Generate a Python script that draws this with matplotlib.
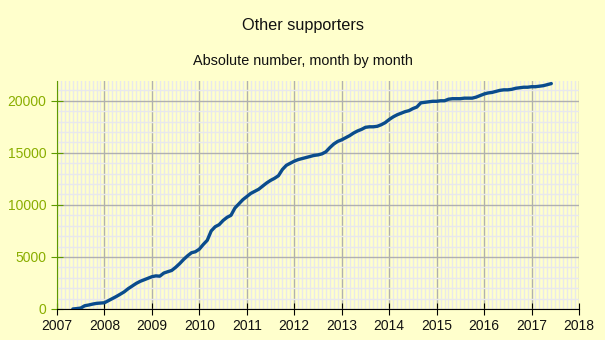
import matplotlib
matplotlib.use('Agg')
import matplotlib.pyplot as plt
from matplotlib.ticker import MultipleLocator
import numpy as np

plt.rcParams['font.family'] = ['Liberation Sans', 'DejaVu Sans']

# monthly totals, May 2007 .. Jun 2017
start_year = 2007
start_month = 5
v2007 = [0, 40, 90, 310, 380, 470, 540, 570]
v2008 = [600, 800, 1000, 1200, 1420, 1650, 1950, 2200, 2450, 2650, 2800, 2950]
v2009 = [3100, 3180, 3150, 3450, 3580, 3700, 4000, 4350, 4750, 5100, 5400, 5500]
v2010 = [5750, 6200, 6600, 7500, 7900, 8100, 8500, 8800, 9000, 9700, 10100, 10500]
v2011 = [10800, 11100, 11300, 11500, 11800, 12100, 12350, 12550, 12800, 13400, 13800, 14000]
v2012 = [14200, 14350, 14450, 14550, 14650, 14750, 14800, 14900, 15100, 15500, 15850, 16100]
v2013 = [16250, 16450, 16650, 16900, 17100, 17250, 17450, 17500, 17500, 17550, 17700, 17900]
v2014 = [18200, 18450, 18650, 18800, 18950, 19050, 19250, 19400, 19800, 19850, 19900, 19950]
v2015 = [19950, 20000, 20000, 20150, 20200, 20200, 20200, 20250, 20250, 20250, 20350, 20500]
v2016 = [20650, 20750, 20800, 20900, 21000, 21050, 21050, 21100, 21200, 21250, 21300, 21300]
v2017 = [21350, 21350, 21400, 21450, 21550, 21650]

values = v2007 + v2008 + v2009 + v2010 + v2011 + v2012 + v2013 + v2014 + v2015 + v2016 + v2017
months = np.arange(len(values))
x = start_year + (start_month - 1 + months) / 12.0

bg = '#FFFFCC'
fig = plt.figure(figsize=(6.05, 3.4), dpi=100, facecolor=bg)
ax = fig.add_axes([0.0942, 0.0912, 0.8628, 0.6706])
ax.set_facecolor(bg)

ax.plot(x, values, color='#0A4C8C', linewidth=2.4, solid_capstyle='round', zorder=3)

ax.set_xlim(2007, 2018)
ax.set_ylim(0, 21900)
ax.xaxis.set_major_locator(MultipleLocator(1))
ax.xaxis.set_minor_locator(MultipleLocator(1 / 12))
ax.yaxis.set_major_locator(MultipleLocator(5000))
ax.yaxis.set_minor_locator(MultipleLocator(1000))

ax.grid(which='minor', color='#E8E8EC', linewidth=1.0, zorder=0)
ax.grid(which='major', color='#B0B0B0', linewidth=1.0, zorder=1)
ax.set_axisbelow(True)

for s in ['top', 'right']:
    ax.spines[s].set_visible(False)
ax.spines['left'].set_color('#5E9A00')
ax.spines['bottom'].set_color('black')

ax.tick_params(axis='y', which='major', direction='inout', length=8, color='#5E9A00',
               labelcolor='#8AAE00', labelsize=10)
ax.tick_params(axis='x', which='major', direction='inout', length=8, color='black',
               labelcolor='#111111', labelsize=10)
ax.tick_params(which='minor', length=0)

fig.text(0.5, 0.925, 'Other supporters', ha='center', va='center', fontsize=11.7, color='#111111')
fig.text(0.5, 0.82, 'Absolute number, month by month', ha='center', va='center',
         fontsize=10.4, color='#111111')

fig.savefig('out.png', dpi=100, facecolor=bg)
